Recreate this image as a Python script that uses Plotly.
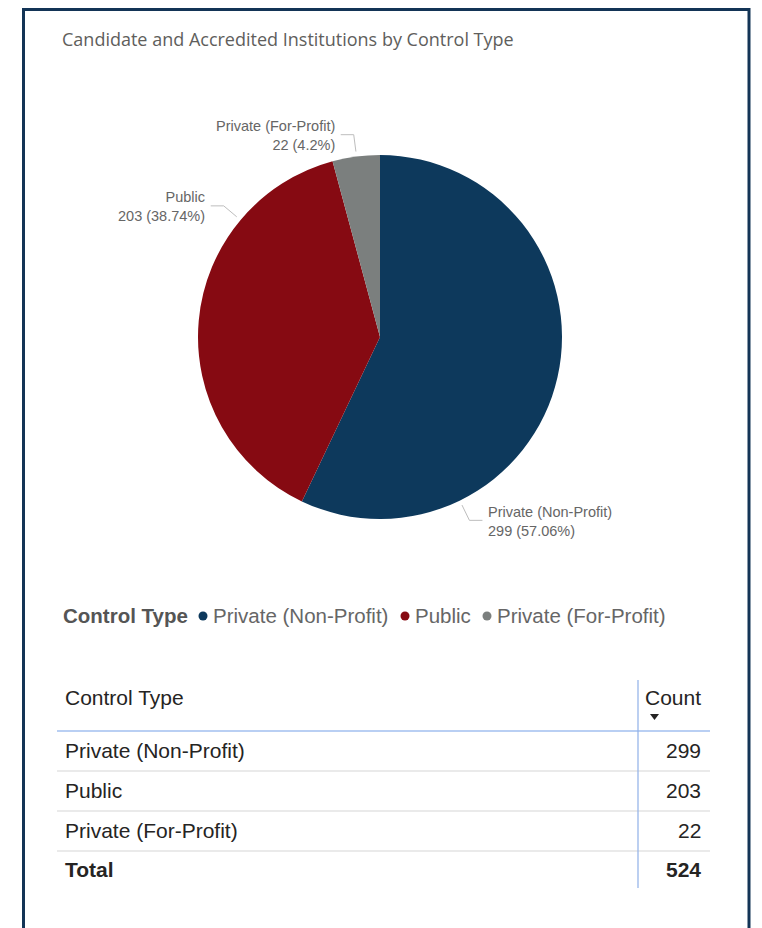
import math
import plotly.graph_objects as go

# ---------------- data ----------------
categories = ["Private (Non-Profit)", "Public", "Private (For-Profit)"]
counts = [299, 203, 22]
colors = ["#0D395C", "#860A12", "#7B7F7E"]
title_text = "Candidate and Accredited Institutions by Control Type"
legend_title = "Control Type"
table_headers = ["Control Type", "Count"]
total_label = "Total"

# ---------------- layout helpers ----------------
W, H = 762, 928
OFF = 8  # page body margin compensation
def X(px):
    return (px - OFF) / W
def Y(py):
    return 1 - (py - OFF) / H

total = sum(counts)
cx, cy, R = 380, 337, 182

fig = go.Figure()
fig.add_trace(go.Pie(
    labels=categories, values=counts, sort=False, direction="clockwise", rotation=0,
    marker=dict(colors=colors, line=dict(color="white", width=0)),
    textinfo="none", hoverinfo="label+value+percent", showlegend=False,
    domain=dict(x=[X(cx - R), X(cx + R)], y=[Y(cy + R), Y(cy - R)]),
))

shapes = []
annotations = []

# panel border
shapes.append(dict(type="rect", xref="paper", yref="paper",
                   x0=X(23.5), x1=X(749), y0=Y(945), y1=Y(9.5),
                   line=dict(color="#133456", width=3), fillcolor="rgba(0,0,0,0)"))

# title
annotations.append(dict(text=title_text, x=X(60), y=Y(39), xref="paper", yref="paper",
                        xanchor="left", yanchor="middle", showarrow=False,
                        font=dict(family="Open Sans", size=18, color="#605E5C")))

# pie data labels with leader lines (label anchor angles, clockwise from 12 o'clock)
label_angles = [154, 310, 352.6]
for cat, v, ang in zip(categories, counts, label_angles):
    a = math.radians(ang)
    s, c = math.sin(a), math.cos(a)
    x1, y1 = cx + (R + 5) * s, cy - (R + 5) * c
    x2, y2 = cx + (R + 22) * s, cy - (R + 22) * c
    side = 1 if s > 0 else -1
    x3 = x2 + side * 13
    path = f"M {X(x1)},{Y(y1)} L {X(x2)},{Y(y2)} L {X(x3)},{Y(y2)}"
    shapes.append(dict(type="path", xref="paper", yref="paper", path=path,
                       line=dict(color="#BDBDBD", width=1)))
    pct = round(v / total * 100, 2)
    annotations.append(dict(
        text=f"{cat}<br>{v} ({pct:g}%)", x=X(x3 + side * 4), y=Y(y2 + 1),
        xref="paper", yref="paper", xanchor="left" if side > 0 else "right",
        yanchor="middle", align="left" if side > 0 else "right", showarrow=False,
        font=dict(family="Liberation Sans", size=14.5, color="#666666")))

# legend
leg_y = 615
annotations.append(dict(text=f"<b>{legend_title}</b>", x=X(61), y=Y(leg_y), xref="paper", yref="paper",
                        xanchor="left", yanchor="middle", showarrow=False,
                        font=dict(family="Liberation Sans", size=20.5, color="#555555")))
legend_dot_x = [203, 405, 487]
for cat, col, dx in zip(categories, colors, legend_dot_x):
    shapes.append(dict(type="circle", xref="paper", yref="paper",
                       x0=X(dx - 4.5), x1=X(dx + 4.5), y0=Y(leg_y + 5.5), y1=Y(leg_y - 3.5),
                       fillcolor=col, line=dict(width=0)))
    annotations.append(dict(text=cat, x=X(dx + 8), y=Y(leg_y), xref="paper", yref="paper",
                            xanchor="left", yanchor="middle", showarrow=False,
                            font=dict(family="Liberation Sans", size=20.5, color="#666666")))

# table
tx_left, tx_right, col_x = 57, 710, 638
txt_font = dict(family="Liberation Sans", size=21, color="#252423")
annotations.append(dict(text=table_headers[0], x=X(63), y=Y(697), xref="paper", yref="paper",
                        xanchor="left", yanchor="middle", showarrow=False, font=txt_font))
annotations.append(dict(text=table_headers[1], x=X(703), y=Y(697), xref="paper", yref="paper",
                        xanchor="right", yanchor="middle", showarrow=False, font=txt_font))
shapes.append(dict(type="path", xref="paper", yref="paper",
                   path=f"M {X(650)},{Y(714)} L {X(659)},{Y(714)} L {X(654.5)},{Y(720)} Z",
                   fillcolor="#252423", line=dict(width=0)))
shapes.append(dict(type="line", xref="paper", yref="paper", x0=X(tx_left), x1=X(tx_right),
                   y0=Y(731), y1=Y(731), line=dict(color="#B9CFF3", width=2)))
row_h = 40
row_y0 = 750
rows = list(zip(categories, counts))
for i, (cat, v) in enumerate(rows):
    yc = row_y0 + i * row_h
    annotations.append(dict(text=cat, x=X(63), y=Y(yc), xref="paper", yref="paper",
                            xanchor="left", yanchor="middle", showarrow=False, font=txt_font))
    annotations.append(dict(text=str(v), x=X(703), y=Y(yc), xref="paper", yref="paper",
                            xanchor="right", yanchor="middle", showarrow=False, font=txt_font))
    shapes.append(dict(type="line", xref="paper", yref="paper", x0=X(tx_left), x1=X(tx_right),
                       y0=Y(yc + 21), y1=Y(yc + 21), line=dict(color="#EAEAEA", width=2)))
ty = row_y0 + len(rows) * row_h - 1
annotations.append(dict(text=f"<b>{total_label}</b>", x=X(63), y=Y(ty), xref="paper", yref="paper",
                        xanchor="left", yanchor="middle", showarrow=False, font=txt_font))
annotations.append(dict(text=f"<b>{total}</b>", x=X(703), y=Y(ty), xref="paper", yref="paper",
                        xanchor="right", yanchor="middle", showarrow=False, font=txt_font))
shapes.append(dict(type="line", xref="paper", yref="paper", x0=X(col_x), x1=X(col_x),
                   y0=Y(680), y1=Y(888), line=dict(color="#8FB0E8", width=1.2)))

fig.update_layout(
    width=W, height=H, margin=dict(l=0, r=0, t=0, b=0),
    paper_bgcolor="white", plot_bgcolor="white",
    shapes=shapes, annotations=annotations,
)
fig.write_html("out.html")
